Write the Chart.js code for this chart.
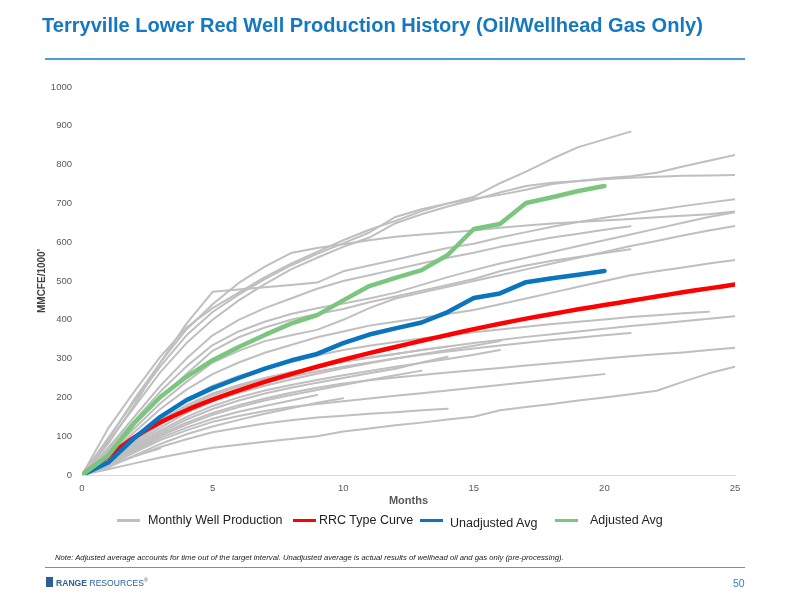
<!DOCTYPE html>
<html>
<head>
<meta charset="utf-8">
<script src="https://cdn.jsdelivr.net/npm/chart.js@4.4.1/dist/chart.umd.min.js"></script>
<style>
  body { margin: 0; background: #fff; }
  #page { position: relative; width: 800px; height: 600px; overflow: hidden; font-family: "Liberation Sans Narrow", "Liberation Sans", Arial, sans-serif; }
  #chart { position: absolute; left: 0; top: 0; }
  .abs { position: absolute; white-space: nowrap; }
  #title { left: 42px; top: 13px; font-size: 21px; font-weight: bold; color: #1479c0; transform: scaleX(0.955); transform-origin: left center; }
  .rule { position: absolute; left: 45px; width: 700px; background: #4aa0d4; }
  .sw { position: absolute; height: 3px; width: 23px; }
  .lg { font-size: 12.5px; color: #222; }
  #note { left: 55px; top: 553px; font-size: 7.7px; font-style: italic; color: #222; }
  #logo { left: 46px; top: 577px; font-size: 8.6px; color: #2d5e96; }
  #pg { left: 733px; top: 577px; font-size: 10.5px; color: #2a86c6; }
</style>
</head>
<body>
<div id="page">
  <canvas id="chart" width="800" height="600"></canvas>
  <div id="title" class="abs">Terryville Lower Red Well Production History (Oil/Wellhead Gas Only)</div>
  <div class="rule" style="top:58px;height:2px;"></div>

  <div class="sw" style="left:117px;top:519px;background:#bfbfbf;"></div>
  <div class="abs lg" style="left:148px;top:513px;">Monthly Well Production</div>
  <div class="sw" style="left:293px;top:519px;background:#ff0000;"></div>
  <div class="abs lg" style="left:319px;top:513px;">RRC Type Curve</div>
  <div class="sw" style="left:420px;top:519px;background:#0a74bf;"></div>
  <div class="abs lg" style="left:450px;top:516px;">Unadjusted Avg</div>
  <div class="sw" style="left:555px;top:519px;background:#7ac67f;"></div>
  <div class="abs lg" style="left:590px;top:513px;">Adjusted Avg</div>

  <div id="note" class="abs">Note: Adjusted average accounts for time out of the target interval. Unadjusted average is actual results of wellhead oil and gas only (pre-processing).</div>
  <div class="rule" style="top:567px;height:1px;"></div>
  <div id="logo" class="abs"><span style="display:inline-block;width:7px;height:10px;background:#2d5e96;vertical-align:-1px;margin-right:3px;"></span><b>RANGE</b> RESOURCES<sup style="font-size:5px;">®</sup></div>
  <div id="pg" class="abs">50</div>
</div>

<script>
// months on the x axis
const months = [0,1,2,3,4,5,6,7,8,9,10,11,12,13,14,15,16,17,18,19,20,21,22,23,24,25];
const xTicks = [0,5,10,15,20,25];
const yTicks = [0,100,200,300,400,500,600,700,800,900,1000];

// cumulative production per well, MMCFE/1000'
const wellA = [0,120,215,305,380,430,470,510,545,575,605,632,655,680,700,717,752,782,815,845,865,885];
const wellB = [0,95,190,280,360,420,465,505,540,570,597,625,665,685,700,712,722,735,750,758,765,770,779,795,810,825];
const wellC = [0,85,175,265,340,400,450,492,530,560,588,612,649,672,692,709,728,745,753,758,762,766,769,771,772,773];
const wellD = [0,80,180,290,390,472,478,484,490,496,525,540,555,570,585,596,612,626,640,652,663,673,683,693,702,711];
const wellE = [0,90,195,290,375,440,495,537,572,585,595,605,614,620,625,630,637,643,648,652,656,660,664,668,672,679];
const wellF = [0,70,150,230,300,360,400,430,455,480,500,515,530,545,560,573,588,600,612,622,632,641];
const wellG = [0,65,140,215,280,335,370,395,415,430,442,455,470,490,510,528,545,560,575,590,605,620,635,650,665,677];
const wellH = [0,60,130,200,260,320,355,380,400,415,428,445,460,475,490,505,525,540,552,562,572,582];
const wellI = [0,55,120,185,240,290,320,345,360,374,400,430,455,470,485,500,515,530,545,560,575,590,603,617,630,642];
const wellJ = [0,50,110,170,220,260,290,315,335,355,370,385,395,405,415,425,440,455,470,485,500,515,525,535,545,554];
const wellK = [0,45,100,150,195,230,255,275,292,308,322,333,343,352,360,368,375,382,389,395,401,407,412,417,421];
const wellL = [0,40,90,140,180,210,232,250,265,279,291,302,312,322,331,340,348,356,363,370,377,384,390,396,403,409];
const wellM = [0,38,85,130,168,198,220,238,253,267,279,290,300,310,318,326,334,341,348,354,360,366];
const wellN = [0,36,80,122,160,190,212,230,246,261,275,288,300,311,322,333,345];
const wellO = [0,34,75,115,150,178,200,218,232,245,257,268,279,289,299,310,322];
const wellP = [0,40,88,135,175,205,228,248,265,280,293,303,312,322,331];
const wellQ = [0,32,72,110,143,170,192,210,225,238,250,262,274,290,305];
const wellR = [0,30,68,105,135,160,180,197,212,225,236,244,251,258,264,270,276,282,288,294,300,306,311,316,322,328];
const wellS = [0,30,65,100,130,155,175,192,206,219,232,245,257,269];
const wellT = [0,25,58,90,115,137,152,165,175,183,190,197,204,211,218,225,232,239,246,253,260];
const wellU = [0,15,30,45,58,70,78,86,93,100,112,120,128,135,143,150,167,175,183,192,200,208,217,240,262,279];
const wellV = [0,22,48,72,92,110,122,133,141,148,153,158,162,167,171];
const wellW = [0,28,62,95,122,145,163,178,192,206];
const wellX = [0,20,50,80,105,125,142,158,172,186,198];
const wellY = [0,25,48,69];

const rrcType  = [0,48,97,136,167,194,218,240,260,279,297,314,330,346,361,376,390,403,415,427,438,449,460,471,481,491];
const unadjAvg = [0,32,95,150,193,224,250,274,295,312,340,362,378,393,420,456,468,497,507,516,526];
const adjAvg   = [0,50,134,201,253,296,330,361,390,412,450,487,508,528,567,634,647,701,716,732,745];

const wells = [wellA,wellB,wellC,wellD,wellE,wellF,wellG,wellH,wellI,wellJ,wellK,wellL,wellM,
  wellN,wellO,wellP,wellQ,wellR,wellS,wellT,wellU,wellV,wellW,wellX,wellY];

function toPoints(arr) {
  return arr.map((v, i) => ({ x: months[i], y: v }));
}

const datasets = [];
datasets.push({ label: 'Adjusted Avg', data: toPoints(adjAvg), borderColor: '#7ac67f', borderWidth: 4.5, order: 0 });
datasets.push({ label: 'Unadjusted Avg', data: toPoints(unadjAvg), borderColor: '#0a74bf', borderWidth: 4.5, order: 1 });
datasets.push({ label: 'RRC Type Curve', data: toPoints(rrcType), borderColor: '#ff0000', borderWidth: 4.5, tension: 0.3, order: 2 });
wells.forEach((w) => {
  datasets.push({ label: 'Monthly Well Production', data: toPoints(w), borderColor: '#bfbfbf', borderWidth: 2, order: 3 });
});

const tickFont = { family: 'Liberation Sans, Arial, sans-serif', size: 9.5 };

new Chart(document.getElementById('chart'), {
  type: 'line',
  data: { datasets },
  options: {
    responsive: false,
    animation: false,
    layout: { padding: { left: 32, right: 65, top: 87, bottom: 92 } },
    elements: { point: { radius: 0 }, line: { tension: 0, borderCapStyle: 'round', borderJoinStyle: 'round' } },
    plugins: { legend: { display: false }, tooltip: { enabled: false } },
    scales: {
      x: {
        type: 'linear', min: 0, max: 25,
        afterFit: (s) => { s.height = 33; },
        afterBuildTicks: (s) => { s.ticks = xTicks.map(v => ({ value: v })); },
        grid: { display: false },
        border: { display: true, color: '#d9d9d9', width: 1 },
        ticks: { font: tickFont, color: '#595959', padding: 0, callback: (v) => String(v) },
        title: { display: true, text: 'Months', color: '#595959', font: { family: 'Liberation Sans, Arial, sans-serif', size: 11, weight: 'bold' }, padding: { top: 0, bottom: 0 } }
      },
      y: {
        min: 0, max: 1000,
        afterFit: (s) => { s.width = 50; },
        afterBuildTicks: (s) => { s.ticks = yTicks.map(v => ({ value: v })); },
        grid: { display: false },
        border: { display: false },
        ticks: { font: tickFont, color: '#595959', padding: 2, callback: (v) => String(v) },
        title: { display: true, text: "MMCFE/1000'", color: '#404040', font: { family: 'Liberation Sans, Arial, sans-serif', size: 10, weight: 'bold' }, padding: { top: 4, bottom: 0 } }
      }
    }
  }
});
</script>
</body>
</html>
